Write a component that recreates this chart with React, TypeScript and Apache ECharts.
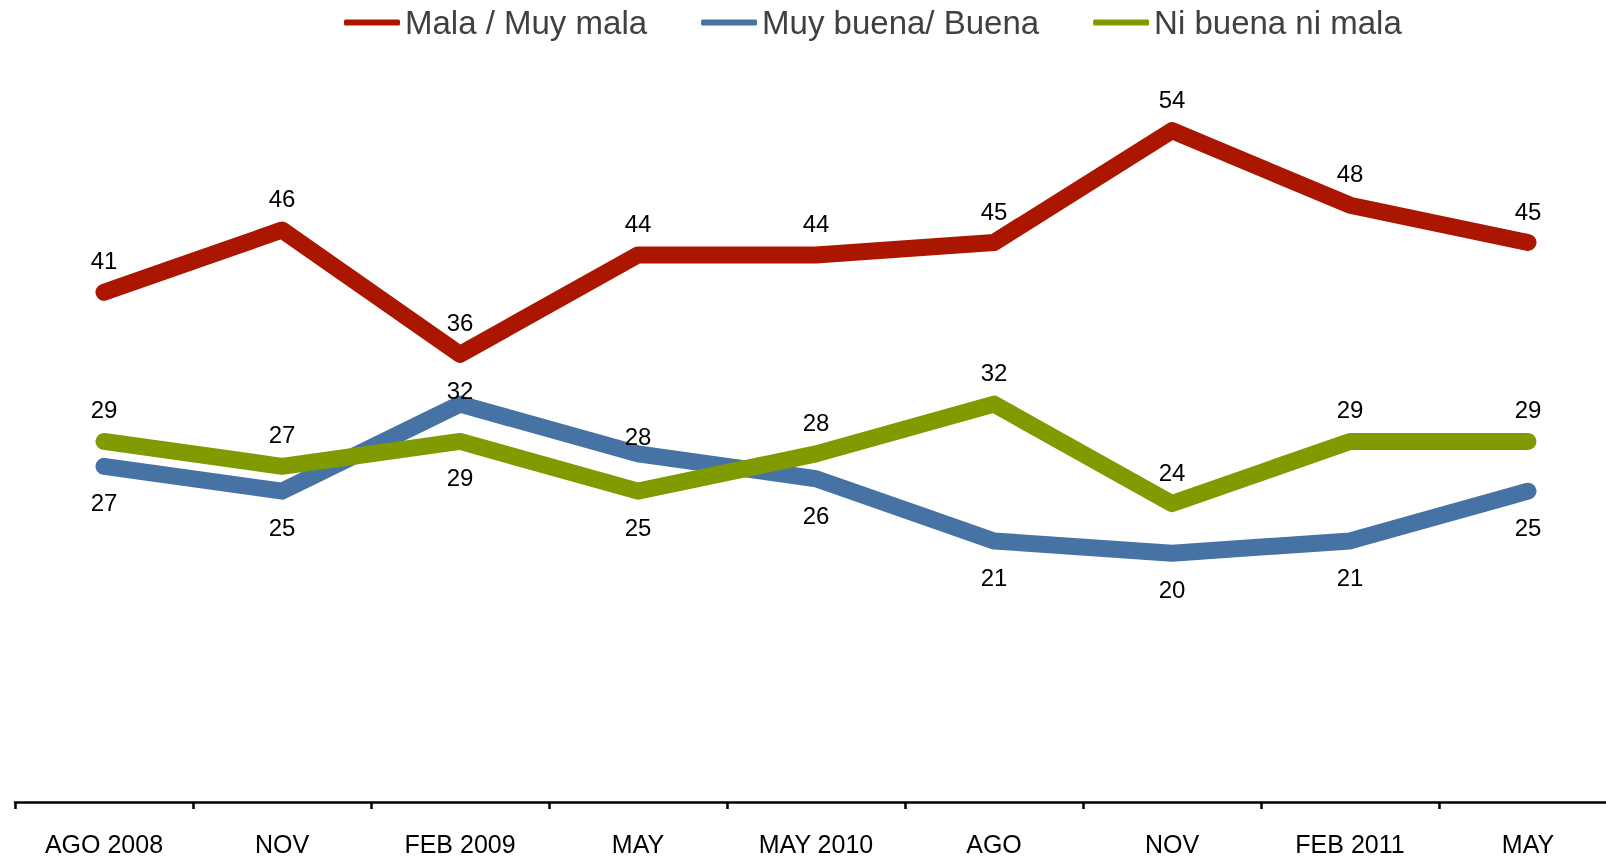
import React, { useEffect, useRef } from "react";
import * as echarts from "echarts";

const categories = ["AGO 2008", "NOV", "FEB 2009", "MAY", "MAY 2010", "AGO", "NOV", "FEB 2011", "MAY"];
const malaValues = [41, 46, 36, 44, 44, 45, 54, 48, 45];
const buenaValues = [27, 25, 32, 28, 26, 21, 20, 21, 25];
const niValues = [29, 27, 29, 25, 28, 32, 24, 29, 29];
// label placement per point: "top" or "bottom"
const buenaLabelPos = ["bottom", "bottom", "top", "top", "bottom", "bottom", "bottom", "bottom", "bottom"];
const buenaLabelDist = [24, 24, 1, 5, 24, 24, 24, 24, 24];
const niLabelPos = ["top", "top", "bottom", "bottom", "top", "top", "top", "top", "top"];

const FONT = "'Liberation Sans', Arial, sans-serif";

export default function App() {
  const ref = useRef<HTMLDivElement>(null);
  useEffect(() => {
    if (!ref.current) return;
    const chart = echarts.init(ref.current, undefined, { renderer: "svg" });
    const labelBase = { show: true, color: "#000", fontSize: 24, fontFamily: FONT };
    const lineCommon = {
      type: "line" as const,
      symbol: "circle",
      symbolSize: 1,
      showSymbol: true,
      lineStyle: { width: 17, cap: "round", join: "round" },
    };
    chart.setOption({
      animation: false,
      legend: {
        left: 339,
        top: 1,
        icon: "roundRect",
        itemWidth: 56,
        itemHeight: 6,
        itemGap: 54,
        textStyle: { color: "#404040", fontSize: 33, fontFamily: FONT },
        data: ["Mala / Muy mala", "Muy buena/ Buena", "Ni buena ni mala"],
      },
      grid: { left: 15, top: 56, width: 1602, height: 746 },
      xAxis: {
        type: "category",
        data: categories,
        boundaryGap: true,
        axisLine: { show: true, lineStyle: { color: "#000", width: 2.5 } },
        axisTick: { show: true, inside: false, length: 7, lineStyle: { color: "#000", width: 2.5 } },
        axisLabel: { color: "#000", fontSize: 25, fontFamily: FONT, margin: 29 },
      },
      yAxis: {
        type: "value",
        min: 0,
        max: 60,
        show: false,
        splitLine: { show: false },
      },
      series: [
        {
          ...lineCommon,
          name: "Mala / Muy mala",
          color: "#AB1600",
          data: malaValues,
          label: { ...labelBase, position: "top", distance: 19 },
          z: 3,
        },
        {
          ...lineCommon,
          name: "Muy buena/ Buena",
          color: "#4673A3",
          data: buenaValues.map((v, i) => ({
            value: v,
            label: { position: buenaLabelPos[i], distance: buenaLabelDist[i] },
          })),
          label: { ...labelBase },
          z: 2,
        },
        {
          ...lineCommon,
          name: "Ni buena ni mala",
          color: "#7F9B00",
          data: niValues.map((v, i) => ({
            value: v,
            label: { position: niLabelPos[i], distance: niLabelPos[i] === "top" ? 19 : 24 },
          })),
          label: { ...labelBase },
          z: 3,
        },
      ],
    });
    return () => chart.dispose();
  }, []);
  return (
    <div
      ref={ref}
      style={{ position: "fixed", left: 0, top: 0, width: 1630, height: 856 }}
    />
  );
}
